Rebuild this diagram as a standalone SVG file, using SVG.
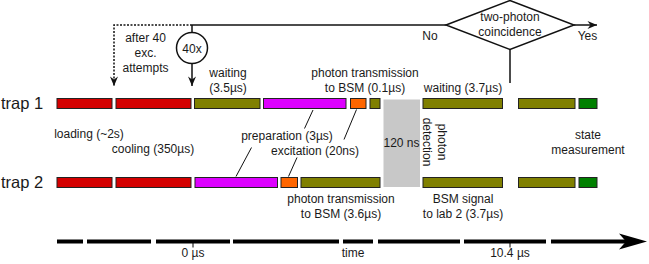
<svg xmlns="http://www.w3.org/2000/svg" width="649" height="264" viewBox="0 0 649 264">
<style>
text{font-family:"Liberation Sans",Arial,sans-serif;font-size:12px;fill:#1a1a1a}
.c{text-anchor:middle}
.trap{font-size:16.5px}
.bar{stroke:#222;stroke-width:1}
.red{fill:#d40000}.olive{fill:#808000}.mag{fill:#dd00ff}.orange{fill:#ff6600}.green{fill:#008000}
.ln{fill:none;stroke:#111;stroke-width:1.5}
.lead{fill:none;stroke:#111;stroke-width:1}
.axis{fill:none;stroke:#000;stroke-width:4}
</style>
<defs>
<marker id="arr" viewBox="-10 -5 11 10" refX="0" refY="0" markerWidth="11" markerHeight="10" markerUnits="userSpaceOnUse" orient="auto">
<path d="M0,0 L-9.5,-4 L-6.5,0 L-9.5,4 Z" fill="#111"/>
</marker>
</defs>
<g id="labels-traps">
<text class="trap" x="1" y="108.5">trap 1</text>
<text class="trap" x="1" y="187.5">trap 2</text>
</g>
<g id="trap1">
<rect class="bar red" x="57" y="98.5" width="55" height="10"/>
<rect class="bar red" x="116" y="98.5" width="75" height="10"/>
<rect class="bar olive" x="194.5" y="98.5" width="65.5" height="10"/>
<rect class="bar mag" x="263.5" y="98.5" width="82.5" height="10"/>
<rect class="bar orange" x="350.5" y="98.5" width="15.5" height="10"/>
<rect class="bar olive" x="370" y="98.5" width="10" height="10"/>
<rect class="bar olive" x="423" y="98.5" width="79.5" height="10"/>
<rect class="bar olive" x="518.5" y="98.5" width="56.5" height="10"/>
<rect class="bar green" x="579" y="98.5" width="18" height="10"/>
</g>
<g id="trap2">
<rect class="bar red" x="57" y="177.5" width="55" height="10"/>
<rect class="bar red" x="116" y="177.5" width="75" height="10"/>
<rect class="bar mag" x="195" y="177.5" width="82.5" height="10"/>
<rect class="bar orange" x="281" y="177.5" width="16.5" height="10"/>
<rect class="bar olive" x="301" y="177.5" width="79" height="10"/>
<rect class="bar olive" x="423" y="177.5" width="79.5" height="10"/>
<rect class="bar olive" x="518.5" y="177.5" width="56.5" height="10"/>
<rect class="bar green" x="579" y="177.5" width="18" height="10"/>
</g>
<g id="detection">
<rect x="383.5" y="99.5" width="36.5" height="87.5" fill="#c8c8c8"/>
<text class="c" x="401.5" y="147">120 ns</text>
<g transform="translate(438,142) rotate(90)">
<text class="c" x="0" y="0">photon</text>
<text class="c" x="0" y="15">detection</text>
</g>
</g>
<g id="counter">
<circle cx="192" cy="48" r="15.5" fill="#fff" stroke="#111" stroke-width="1.5"/>
<text class="c" x="192" y="52.5">40x</text>
</g>
<g id="decision">
<polygon points="446,25 510,0.5 574,25 510,49.5" fill="#fff" stroke="#111" stroke-width="1.5"/>
<text class="c" x="510" y="20.5">two-photon</text>
<text class="c" x="510" y="36">coincidence</text>
<text class="c" x="430" y="39.5">No</text>
<text class="c" x="587.5" y="39.5">Yes</text>
</g>
<g id="connectors">
<path class="ln" d="M192,25 H114 V86" stroke-dasharray="2,1.5" marker-end="url(#arr)"/>
<path class="ln" d="M192,25 H446"/>
<path class="ln" d="M192,25 V32.5"/>
<path class="ln" d="M192,63.5 V86" marker-end="url(#arr)"/>
<path class="ln" d="M510,49.5 V83"/>
<path class="ln" d="M574,25 H597" marker-end="url(#arr)"/>
<path class="lead" d="M313,110 L304.5,128.5"/>
<path class="lead" d="M251.5,147.5 L236,176.5"/>
<path class="lead" d="M356.5,109.5 L344,139.5"/>
<path class="lead" d="M297,157.5 L288.5,176.5"/>
</g>
<g id="texts">
<text class="c" x="145.5" y="41.5">after 40</text>
<text class="c" x="145.5" y="57">exc.</text>
<text class="c" x="145.5" y="72">attempts</text>
<text class="c" x="228" y="76.5">waiting</text>
<text class="c" x="228" y="91.5">(3.5µs)</text>
<text class="c" x="365" y="76.5">photon transmission</text>
<text class="c" x="365" y="91.5">to BSM (0.1µs)</text>
<text class="c" x="463" y="91.5">waiting (3.7µs)</text>
<text class="c" x="89" y="138">loading (~2s)</text>
<text class="c" x="153" y="153">cooling (350µs)</text>
<text class="c" x="287" y="139.5">preparation (3µs)</text>
<text class="c" x="315" y="154.5">excitation (20ns)</text>
<text class="c" x="588" y="139">state</text>
<text class="c" x="588" y="154">measurement</text>
<text class="c" x="341" y="203">photon transmission</text>
<text class="c" x="341" y="218">to BSM (3.6µs)</text>
<text class="c" x="463" y="203">BSM signal</text>
<text class="c" x="463" y="218">to lab 2 (3.7µs)</text>
</g>
<g id="time-axis">
<path class="axis" d="M57,241.5 H83 M87,241.5 H151 M156,241.5 H230 M233,241.5 H339 M343,241.5 H373 M378,241.5 H460 M464,241.5 H546 M551,241.5 H626"/>
<path d="M647,241.5 L619,233.5 L626,241.5 L619,249.5 Z" fill="#000"/>
<path d="M193,241 V247.5 M510,241 V247.5" stroke="#000" stroke-width="1" fill="none"/>
<text class="c" x="193" y="257">0 µs</text>
<text class="c" x="353" y="257">time</text>
<text class="c" x="510" y="257">10.4 µs</text>
</g>
</svg>
